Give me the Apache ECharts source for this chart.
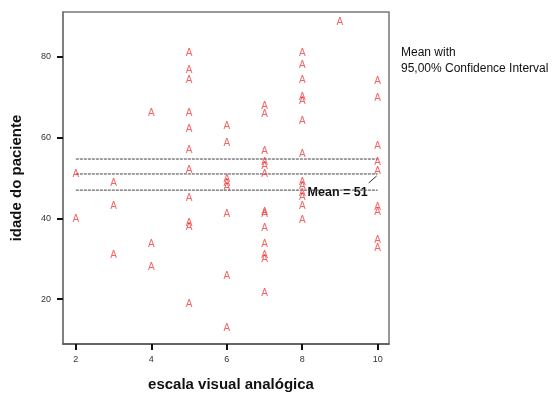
<!DOCTYPE html>
<html>
<head>
<meta charset="utf-8">
<script src="https://cdn.jsdelivr.net/npm/echarts@6/dist/echarts.min.js"></script>
<style>
  html, body { margin: 0; padding: 0; background: #fff; }
  #chart { width: 552px; height: 396px; }
</style>
</head>
<body>
<div id="chart"></div>
<script>
// idade do paciente, grouped by escala visual analógica score
const eva2 = [51, 39.7]
const eva3 = [48.7, 42.9, 30.8]
const eva4 = [66, 33.6, 27.8]
const eva5 = [80.8, 76.7, 74.1, 66, 62, 56.8, 51.9, 44.9, 38.8, 37.8, 18.7]
const eva6 = [62.7, 58.6, 49.6, 48.7, 47.7, 41, 25.7, 12.9]
const eva7 = [67.8, 65.8, 56.6, 54, 53, 50.9, 41.6, 41, 37.5, 33.5, 30.8, 29.9, 21.4]
const eva8 = [80.8, 77.9, 74.1, 70.1, 68.9, 64.1, 56, 48.9, 48, 46.2, 45.2, 43, 39.6]
const eva9 = [88.5]
const eva10 = [73.9, 69.8, 57.9, 53.9, 51.6, 42.8, 41.4, 34.7, 32.6]

const scoreGroups = [[2, eva2], [3, eva3], [4, eva4], [5, eva5], [6, eva6], [7, eva7], [8, eva8], [9, eva9], [10, eva10]]

const meanAge = 51
const ciLow = 47
const ciHigh = 54.7
const lineFrom = 2
const lineTo = 10

const xTicks = [2, 4, 6, 8, 10]
const yTicks = [20, 40, 60, 80]

const points = []
scoreGroups.forEach(([score, ages]) => {
  ages.forEach(age => points.push([score, age]))
})

const dashedLine = (value) => ({
  type: 'line',
  data: [[lineFrom, value], [lineTo, value]],
  symbol: 'none',
  silent: true,
  lineStyle: { color: '#444', width: 1, type: [3, 1] },
  z: 1
})

const chart = echarts.init(document.getElementById('chart'))

const option = {
  animation: false,
  textStyle: { fontFamily: 'Liberation Sans, Arial, sans-serif' },
  grid: {
    left: 63,
    right: 163,
    top: 12,
    bottom: 52,
    outerBoundsMode: 'none',
    containLabel: false,
    show: true,
    borderColor: '#777',
    borderWidth: 1.5
  },
  xAxis: {
    type: 'value',
    min: 1.66,
    max: 10.3,
    name: 'escala visual analógica',
    nameLocation: 'middle',
    nameGap: 33,
    nameTextStyle: { fontSize: 15, fontWeight: 'bold', color: '#111', padding: [0, 0, 0, 10] },
    splitLine: { show: false },
    axisLine: { lineStyle: { color: '#555', width: 1.5 } },
    axisTick: { customValues: xTicks, length: 6, lineStyle: { color: '#111', width: 2 } },
    axisLabel: { customValues: xTicks, fontSize: 9, color: '#333', margin: 11 }
  },
  yAxis: {
    type: 'value',
    min: 8.9,
    max: 91.1,
    name: 'idade do paciente',
    nameLocation: 'middle',
    nameGap: 39,
    nameTextStyle: { fontSize: 15, fontWeight: 'bold', color: '#111' },
    splitLine: { show: false },
    axisLine: { lineStyle: { color: '#777', width: 1.5 } },
    axisTick: { customValues: yTicks, length: 6, lineStyle: { color: '#111', width: 2 } },
    axisLabel: { customValues: yTicks, fontSize: 9, color: '#333', margin: 12 }
  },
  series: [
    dashedLine(ciHigh),
    dashedLine(meanAge),
    dashedLine(ciLow),
    {
      type: 'scatter',
      data: points,
      symbol: 'circle',
      symbolSize: 1,
      itemStyle: { color: 'rgba(0,0,0,0)' },
      label: {
        show: true,
        formatter: 'A',
        position: 'inside',
        fontSize: 10,
        color: '#f03c3c'
      },
      z: 3
    }
  ]
}

chart.setOption(option)

// "Mean = 51" callout and side legend text
const end = chart.convertToPixel({ gridIndex: 0 }, [lineTo, meanAge])
chart.setOption({
  graphic: [
    {
      type: 'line',
      shape: { x1: end[0] - 1, y1: end[1] + 2, x2: end[0] - 9, y2: end[1] + 9 },
      style: { stroke: '#333', lineWidth: 1 }
    },
    {
      type: 'text',
      x: end[0] - 10,
      y: end[1] + 19,
      style: {
        text: 'Mean = ' + meanAge,
        font: 'bold 12.5px Liberation Sans, Arial, sans-serif',
        fill: '#111',
        align: 'right',
        verticalAlign: 'middle'
      }
    },
    {
      type: 'text',
      left: 401,
      top: 45,
      style: {
        text: 'Mean with\n95,00% Confidence Interval',
        font: '12px Liberation Sans, Arial, sans-serif',
        fill: '#111',
        lineHeight: 15.5
      }
    }
  ]
})
</script>
</body>
</html>
